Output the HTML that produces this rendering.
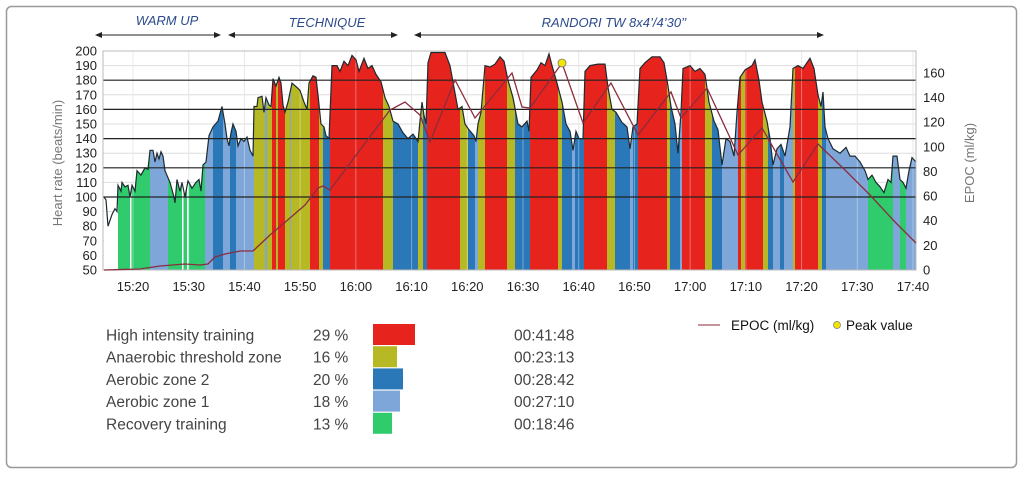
<!DOCTYPE html>
<html><head><meta charset="utf-8"><style>
body{margin:0;background:#fff;width:1024px;height:477px;overflow:hidden;font-family:"Liberation Sans",sans-serif}
</style></head><body>
<svg id="s" width="1024" height="477" xmlns="http://www.w3.org/2000/svg" font-family="Liberation Sans, sans-serif"></svg>
<script>
const S=document.getElementById('s');let h='';
const Y=hr=>270-(hr-50)*1.46;
h+='<rect x="6.5" y="6.5" width="1010" height="461" rx="5" fill="#fff" stroke="#999" stroke-width="1.5"/>';
const ticks=['15:20','15:30','15:40','15:50','16:00','16:10','16:20','16:30','16:40','16:50','17:00','17:10','17:20','17:30','17:40'];
const tx=i=>133+i*55.714;
for(let v=50;v<=200;v+=10)h+=`<line x1="103" x2="916" y1="${Y(v)}" y2="${Y(v)}" stroke="#ddd"/>`;
ticks.forEach((t,i)=>{h+=`<line x1="${tx(i)}" x2="${tx(i)}" y1="51" y2="270" stroke="#ddd"/>`});
const hr=[[104,100],[106,98],[108,80],[112,88],[115,92],[117,90],[118,108],[121,104],[122,110],[125,107],[128,108],[130,100],[132,108],[135,104],[137,118],[141,115],[145,120],[148,119],[150,132],[153,132],[155,124],[157,130],[159,126],[161,131],[163,128],[165,118],[170,110],[174,100],[175,96],[177,112],[180,104],[182,110],[185,100],[188,111],[192,106],[196,110],[199,112],[201,104],[203,122],[206,124],[209,142],[213,148],[218,152],[222,162],[225,150],[227,140],[229,135],[231,144],[233,150],[236,145],[238,135],[241,140],[244,138],[247,141],[250,132],[253,128],[254,162],[257,162],[258,168],[262,169],[264,158],[266,168],[269,163],[271,162],[273,181],[276,176],[279,182],[281,178],[283,163],[285,158],[288,165],[292,178],[297,175],[300,173],[304,165],[307,160],[309,178],[313,183],[316,182],[318,170],[321,150],[324,148],[326,142],[329,140],[332,190],[337,190],[340,186],[344,193],[348,190],[352,197],[356,194],[359,186],[364,195],[368,188],[372,190],[376,184],[381,179],[385,168],[389,162],[393,152],[398,150],[403,144],[408,140],[413,143],[418,138],[420,152],[422,165],[424,156],[426,150],[428,192],[431,199],[445,199],[450,190],[454,175],[458,160],[462,162],[465,150],[469,146],[474,142],[476,138],[478,150],[481,158],[485,190],[490,189],[495,191],[500,196],[504,193],[508,180],[513,168],[518,150],[522,148],[527,152],[529,145],[531,182],[537,187],[541,192],[545,190],[549,198],[552,190],[557,178],[562,165],[566,150],[570,145],[573,132],[576,145],[579,140],[583,140],[585,186],[590,190],[598,191],[605,191],[608,175],[612,160],[616,158],[622,151],[627,148],[630,133],[633,148],[637,150],[640,188],[645,192],[652,196],[660,196],[664,192],[668,176],[671,162],[675,150],[678,130],[681,158],[683,188],[690,190],[695,186],[700,188],[705,184],[709,165],[714,152],[718,146],[722,122],[726,140],[730,138],[734,128],[737,158],[740,182],[745,187],[752,190],[755,194],[759,180],[762,165],[767,152],[770,140],[773,122],[777,133],[781,136],[785,128],[790,148],[793,188],[798,190],[803,188],[810,195],[814,188],[818,170],[821,162],[823,172],[825,148],[828,140],[833,133],[840,130],[846,134],[850,128],[855,128],[860,124],[865,118],[868,112],[872,115],[876,110],[880,107],[884,103],[888,112],[891,110],[893,128],[897,128],[900,112],[903,110],[906,106],[909,118],[912,127],[916,124]];
let poly=hr.map(p=>`${p[0]},${Y(p[1]).toFixed(1)}`).join(' ');
h+=`<defs><clipPath id="c"><polygon points="104,270 ${poly} 916,270"/></clipPath></defs>`;
const R='#e6231d',O='#b7b924',B='#2b78b8',L='#7ea6d8',G='#2fcb6c',W='#fff';
const seg=[[104,W],[118,G],[150,L],[168,G],[205,L],[213,B],[223,L],[230,B],[236,L],[254,O],[265,L],[267,O],[272,R],[276,O],[278,R],[285,O],[290,L],[291,O],[310,R],[319,O],[323,B],[330,R],[383,O],[393,B],[418,O],[423,B],[427,R],[460,O],[468,B],[475,L],[478,O],[485,R],[507,O],[515,B],[530,R],[558,O],[562,B],[572,L],[575,B],[584,R],[607,O],[615,B],[630,L],[633,B],[638,R],[667,O],[670,B],[680,L],[682,R],[705,O],[712,B],[722,L],[738,R],[741,O],[745,R],[763,O],[768,B],[773,L],[780,B],[784,L],[793,O],[795,R],[818,O],[822,B],[826,L],[868,G],[893,L],[900,G],[906,L],[916,null]];
h+='<g clip-path="url(#c)">';
for(let i=0;i<seg.length-1;i++)h+=`<rect x="${seg[i][0]}" y="40" width="${seg[i+1][0]-seg[i][0]+0.3}" height="240" fill="${seg[i][1]}"/>`;
[130,182,187].forEach(x=>h+=`<rect x="${x}" y="40" width="1.5" height="240" fill="#fff"/>`);
h+='</g>';
ticks.forEach((t,i)=>{h+=`<line x1="${tx(i)}" x2="${tx(i)}" y1="51" y2="270" stroke="#fff" stroke-opacity="0.35"/>`});
for(let v=100;v<=180;v+=20)h+=`<line x1="103" x2="916" y1="${Y(v)}" y2="${Y(v)}" stroke="#222" stroke-width="1.2"/>`;
h+=`<polyline points="${poly}" fill="none" stroke="#1d2a30" stroke-width="1.2"/>`;
h+='<rect x="103" y="51" width="813" height="219" fill="none" stroke="#bbb"/>';
const ep=[[104,270],[140,269],[160,266],[185,264],[200,265],[208,264],[215,257],[225,254],[240,251],[253,251],[270,235],[290,218],[305,205],[318,188],[323,186],[330,190],[360,150],[390,110],[405,102],[420,115],[430,142],[455,80],[475,118],[512,73],[522,107],[530,108],[562,63],[583,123],[611,83],[638,135],[671,92],[681,118],[707,88],[738,155],[762,128],[793,182],[818,144],[845,170],[870,195],[895,222],[916,243]];
h+=`<polyline points="${ep.map(p=>p.join(',')).join(' ')}" fill="none" stroke="#8a2c3e" stroke-width="1.3"/>`;
h+='<circle cx="562" cy="63" r="4" fill="#f2e600" stroke="#777" stroke-width="0.8"/>';
for(let v=50;v<=200;v+=10)h+=`<text x="97" y="${Y(v)+4.5}" font-size="13" text-anchor="end" fill="#222">${v}</text>`;
for(let v=0;v<=160;v+=20)h+=`<text x="923" y="${270-v*1.232+4.5}" font-size="13" fill="#222">${v}</text>`;
ticks.forEach((t,i)=>{h+=`<text x="${tx(i)}" y="291" font-size="13" text-anchor="middle" fill="#222">${t}</text>`});
h+='<text transform="translate(62,163) rotate(-90)" font-size="13" text-anchor="middle" fill="#777">Heart rate (beats/min)</text>';
h+='<text transform="translate(974,163) rotate(-90)" font-size="13" text-anchor="middle" fill="#777">EPOC (ml/kg)</text>';
function arr(a,b){return `<line x1="${a+5}" x2="${b-5}" y1="35" y2="35" stroke="#222"/><polygon points="${a},35 ${a+7},32 ${a+7},38" fill="#222"/><polygon points="${b},35 ${b-7},32 ${b-7},38" fill="#222"/>`}
h+=arr(95,221)+arr(228,398)+arr(414,824);
h+='<g font-size="13" font-style="italic" fill="#2b4a8c"><text x="167" y="25" text-anchor="middle">WARM UP</text><text x="327" y="27" text-anchor="middle">TECHNIQUE</text><text x="614" y="27" text-anchor="middle">RANDORI TW 8x4’/4’30’’</text></g>';
const z=[['High intensity training','29 %',R,42,'00:41:48'],['Anaerobic threshold zone','16 %',O,24,'00:23:13'],['Aerobic zone 2','20 %',B,30,'00:28:42'],['Aerobic zone 1','18 %',L,27,'00:27:10'],['Recovery training','13 %',G,19,'00:18:46']];
z.forEach((r,i)=>{const y=335+i*22.2;
h+=`<text x="106" y="${y+5.5}" font-size="15.5" fill="#444">${r[0]}</text><text x="313" y="${y+5.5}" font-size="15.5" fill="#444">${r[1]}</text><rect x="373" y="${y-11}" width="${r[3]}" height="21" fill="${r[2]}"/><text x="514" y="${y+5.5}" font-size="15.5" fill="#444">${r[4]}</text>`});
h+='<line x1="698" x2="720" y1="325" y2="325" stroke="#a4545e" stroke-width="1.2"/><text x="731" y="330" font-size="13.5" fill="#111">EPOC (ml/kg)</text><circle cx="837" cy="325" r="3.5" fill="#f2e600" stroke="#777" stroke-width="0.7"/><text x="846" y="330" font-size="13.5" fill="#111">Peak value</text>';
S.innerHTML=h;
</script>
</body></html>
